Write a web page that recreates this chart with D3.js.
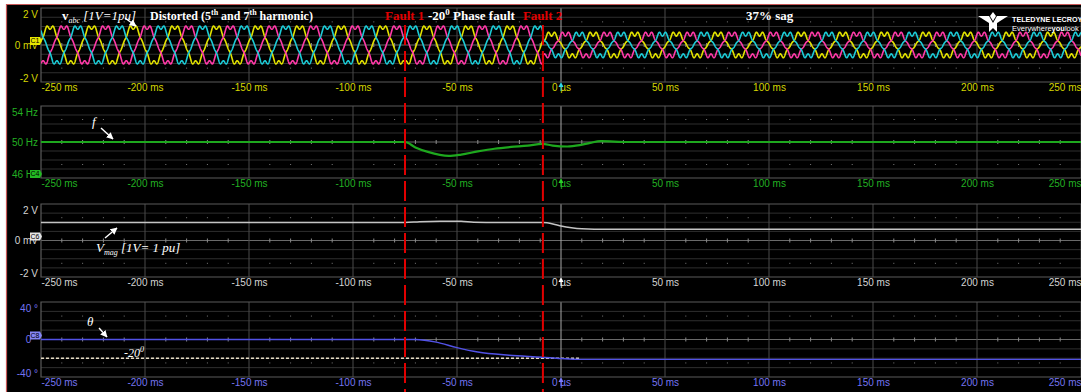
<!DOCTYPE html>
<html>
<head>
<meta charset="utf-8">
<script src="https://cdn.jsdelivr.net/npm/d3@7"></script>
<style>
  body { margin: 0; background: #fff; }
  svg { display: block; }
</style>
</head>
<body>
<div class="canvas"></div>
<script>
// ---- data ----
const timeTicks = [-250, -200, -150, -100, -50, 0, 50, 100, 150, 200, 250];
const timeTickLabels = ["-250 ms", "-200 ms", "-150 ms", "-100 ms", "-50 ms", "0 µs", "50 ms", "100 ms", "150 ms", "200 ms", "250 ms"];

const faultTimes = [-75, -8.7];
const faultLabels = ["Fault 1", "Fault 2"];

// three phase voltage, 1 V = 1 pu
const nominalHz = 50;
const phaseColors = ["#e2e200", "#ff3aa8", "#1ccbd6"];
const phaseAngles = [192, 72, -48];          // deg at t = 0
const segmentStart = [-250, -75, -8.7];      // ms
const segmentAmp = [1.0, 1.0, 0.63];         // pu fundamental
const segmentShift = [0, -20, -20];          // deg phase jump
const harmonicOrder = [5, 7];
const harmonicAmp = [-0.08, 0.07];           // pu

// frequency (Hz)
const freqTime = [-250, -75, -70, -64, -54, -48, -40, -32, -24, -16, -9, -4, 3, 9, 14, 19, 32, 250];
const freqHz =   [50, 50, 49.4, 48.9, 48.45, 48.6, 48.95, 49.25, 49.45, 49.6, 49.8, 49.6, 49.5, 49.65, 49.9, 50.1, 50, 50];

// voltage magnitude (V)
const vmagTime = [-250, -75, -68, -58, -48, -42, -30, -8.7, -3, 0, 5, 10, 16, 250];
const vmagV =    [0.98, 0.98, 1.03, 1.06, 1.05, 1.0, 0.98, 0.98, 0.88, 0.8, 0.7, 0.64, 0.62, 0.62];

// phase angle (deg)
const thetaTime = [-250, -70, -60, -50, -40, -25, -9, 0, 9, 250];
const thetaDeg =  [0, 0, -2.8, -8.7, -13.4, -16.8, -18.9, -20.3, -21.2, -21.2];
const thetaRef = -20;
const thetaRefEnd = 9;

// ---- layout ----
const W = 1081, H = 392;
const x = d3.scaleLinear().domain([-250, 250]).range([41, 1081]);

const panels = [
  { top: 8, bottom: 82, domain: [-2, 2], yTicks: [2, 0, -2], yLabels: ["2 V", "0 mV", "-2 V"],
    color: "#d6d600", badge: "C1", badgeFill: "#e8e800", badgeY: 0, marker: "#30d8e8" },
  { top: 106, bottom: 178, domain: [46, 54], yTicks: [54, 50, 46], yLabels: ["54 Hz", "50 Hz", "46 Hz"],
    color: "#23b023", badge: "C4", badgeFill: "#22b822", badgeY: 46, marker: "#2ad02a" },
  { top: 204, bottom: 277, domain: [-2, 2], yTicks: [2, 0, -2], yLabels: ["2 V", "0 mV", "-2 V"],
    color: "#d4d4d4", badge: "C6", badgeFill: "#e4e4e4", badgeY: 0, marker: "#ffffff" },
  { top: 302, bottom: 377, domain: [-40, 40], yTicks: [40, 0, -40], yLabels: ["40 °", "0 °", "-40 °"],
    color: "#7474f2", badge: "C8", badgeFill: "#8585f5", badgeY: 0, marker: "#7a7aff" }
];
panels.forEach(p => { p.y = d3.scaleLinear().domain(p.domain).range([p.bottom, p.top]); });

const svg = d3.select('.canvas').append('svg')
  .attr("width", W)
  .attr("height", H);

// page + screen
svg.append('rect').attr("width", W).attr("height", H).attr("fill", "#fff");
svg.append('rect').attr("x", 7).attr("y", 5).attr("width", W - 7).attr("height", H - 5).attr("fill", "#000");
svg.append('path').attr("d", `M6.5,${H} V4.5 H${W}`).attr("stroke", "#c85858").attr("stroke-width", 1.2).attr("fill", "none");

const defs = svg.append('defs');
defs.append('marker')
  .attr("id", "arrow").attr("viewBox", "0 0 10 10").attr("refX", 9).attr("refY", 5)
  .attr("markerWidth", 5).attr("markerHeight", 5).attr("orient", "auto")
  .append('path').attr("d", "M0,0 L10,5 L0,10 z").attr("fill", "#fff");

const minorTimes = d3.range(-240, 250, 10);

panels.forEach((p, i) => {
  defs.append('clipPath').attr("id", "clip" + i)
    .append('rect').attr("x", 41).attr("y", p.top).attr("width", W - 41).attr("height", p.bottom - p.top);

  const g = svg.append('g');
  const div = (p.bottom - p.top) / 8;

  // horizontal grid
  g.selectAll('.hg').data(d3.range(1, 8)).enter().append('line')
    .attr("x1", 41).attr("x2", W)
    .attr("y1", k => p.top + k * div).attr("y2", k => p.top + k * div)
    .attr("stroke", k => k === 4 ? "#6a6a6a" : "#2f2f2f").attr("stroke-width", 1);

  // vertical grid every 50 ms
  g.selectAll('.vg').data(timeTicks.slice(1)).enter().append('line')
    .attr("x1", d => x(d)).attr("x2", d => x(d))
    .attr("y1", p.top).attr("y2", p.bottom)
    .attr("stroke", d => d === 0 ? "#a8a8a8" : "#4a4a4a").attr("stroke-width", 1);

  // small ticks on the centre line and dots on the inner lines
  g.selectAll('.ct').data(minorTimes.filter(t => t % 50 !== 0)).enter().append('line')
    .attr("x1", d => x(d)).attr("x2", d => x(d))
    .attr("y1", p.top + 4 * div - 2).attr("y2", p.top + 4 * div + 2)
    .attr("stroke", "#8a8a8a");
  [p.top + 1.5 * div, p.bottom - 1.5 * div].forEach(yy => {
    g.selectAll(null).data(minorTimes.filter(t => t % 50 !== 0)).enter().append('rect')
      .attr("x", d => x(d) - 0.5).attr("y", yy - 0.5).attr("width", 1).attr("height", 1)
      .attr("fill", "#7a7a7a");
  });

  // border
  g.append('path')
    .attr("d", `M${W},${p.top} H41 V${p.bottom} H${W}`)
    .attr("stroke", "#5a5a5a").attr("stroke-width", 1.2).attr("fill", "none");

  // time axis
  const xAxis = d3.axisBottom(x).tickValues(timeTicks)
    .tickFormat((d, k) => timeTickLabels[k]).tickSize(0).tickPadding(0);
  const xg = g.append('g').attr("transform", `translate(0 ${p.bottom + 2})`).call(xAxis);
  xg.select('.domain').remove();
  xg.selectAll('text')
    .attr("fill", p.color).style("font-family", "'Liberation Sans', Arial, sans-serif").style("font-size", "10px")
    .attr("text-anchor", (d, k) => k === 0 ? "start" : (k === timeTicks.length - 1 ? "end" : "middle"));

  // amplitude axis
  const yAxis = d3.axisLeft(p.y).tickValues(p.yTicks)
    .tickFormat((d, k) => p.yLabels[k]).tickSize(0).tickPadding(3);
  const yg = g.append('g').attr("transform", "translate(41 0)").call(yAxis);
  yg.select('.domain').remove();
  yg.selectAll('text')
    .attr("fill", p.color).style("font-family", "'Liberation Sans', Arial, sans-serif").style("font-size", "10px")
    .attr("y", (d, k) => k === 0 ? 6 : (k === 2 ? -4 : 0));

  // channel badge
  const by = p.y(p.badgeY) - 4;
  const bg = g.append('g').attr("transform", `translate(30 ${by})`);
  bg.append('path').attr("d", "M0,-4 H10 L12,0 L10,4 H0 Z").attr("fill", p.badgeFill);
  bg.append('text').attr("x", 5).attr("y", 0).attr("dy", "0.35em").attr("text-anchor", "middle")
    .style("font-family", "'Liberation Sans', Arial, sans-serif").style("font-size", "7px")
    .attr("fill", "#000").text(p.badge);

  // trigger marker
  g.append('path')
    .attr("d", `M${x(0) - 2.5},${p.bottom + 5} L${x(0)},${p.bottom} L${x(0) + 2.5},${p.bottom + 5} Z`)
    .attr("fill", p.marker);
  g.append('line').attr("x1", x(0)).attr("x2", x(0)).attr("y1", p.bottom + 4).attr("y2", p.bottom + 9)
    .attr("stroke", p.marker);

  p.plot = svg.append('g').attr("clip-path", `url(#clip${i})`);
});

// ---- panel 1: three phase waveforms ----
function segIndex(t) {
  let s = 0;
  segmentStart.forEach((st, k) => { if (t >= st) s = k; });
  return s;
}
const tSamples = d3.range(-250, 250.001, 0.1);
const p1 = panels[0];
const wave = d3.line().x(d => x(d[0])).y(d => p1.y(d[1]));
phaseAngles.forEach((ph, k) => {
  const pts = tSamples.map(t => {
    const s = segIndex(t);
    const th = 2 * Math.PI * nominalHz * t / 1000 + (ph + segmentShift[s]) * Math.PI / 180;
    let v = segmentAmp[s] * Math.sin(th);
    harmonicOrder.forEach((n, h) => { v += harmonicAmp[h] * Math.sin(n * th); });
    return [t, v];
  });
  p1.plot.append('path').datum(pts).attr("d", wave)
    .attr("fill", "none").attr("stroke", phaseColors[k]).attr("stroke-width", 1.6);
});

// ---- panel 2: frequency ----
const p2 = panels[1];
p2.plot.append('path').datum(freqTime.map((t, k) => [t, freqHz[k]]))
  .attr("d", d3.line().x(d => x(d[0])).y(d => p2.y(d[1])).curve(d3.curveMonotoneX))
  .attr("fill", "none").attr("stroke", "#1ea81e").attr("stroke-width", 2.2);

// ---- panel 3: magnitude ----
const p3 = panels[2];
p3.plot.append('path').datum(vmagTime.map((t, k) => [t, vmagV[k]]))
  .attr("d", d3.line().x(d => x(d[0])).y(d => p3.y(d[1])).curve(d3.curveMonotoneX))
  .attr("fill", "none").attr("stroke", "#c4c4c4").attr("stroke-width", 1.5);

// ---- panel 4: phase angle ----
const p4 = panels[3];
p4.plot.append('line')
  .attr("x1", x(-250)).attr("x2", x(thetaRefEnd))
  .attr("y1", p4.y(thetaRef)).attr("y2", p4.y(thetaRef))
  .attr("stroke", "#e6dcc4").attr("stroke-width", 1.5).attr("stroke-dasharray", "3,2");
p4.plot.append('path').datum(thetaTime.map((t, k) => [t, thetaDeg[k]]))
  .attr("d", d3.line().x(d => x(d[0])).y(d => p4.y(d[1])).curve(d3.curveMonotoneX))
  .attr("fill", "none").attr("stroke", "#5252e6").attr("stroke-width", 1.4);

// ---- fault lines ----
svg.selectAll('.fault').data(faultTimes).enter().append('line')
  .attr("x1", d => x(d)).attr("x2", d => x(d))
  .attr("y1", 25).attr("y2", H)
  .attr("stroke", "#e00000").attr("stroke-width", 2).attr("stroke-dasharray", "20,6");

const serif = "'Liberation Serif', 'DejaVu Serif', serif";
svg.selectAll('.flab').data(faultTimes).enter().append('text')
  .attr("x", d => x(d) - 20).attr("y", 20)
  .attr("fill", "#e00000").style("font-family", serif).style("font-weight", "bold").style("font-size", "13px")
  .text((d, k) => faultLabels[k]);

// ---- annotations ----
function note(xp, yp, parts, size) {
  const t = svg.append('text').attr("x", xp).attr("y", yp).attr("fill", "#fff")
    .style("font-family", serif).style("font-size", size + "px");
  parts.forEach(pt => {
    const s = t.append('tspan').text(pt.t);
    if (pt.b) s.style("font-weight", "bold");
    if (pt.i) s.style("font-style", "italic");
    if (pt.sup) s.attr("dy", -5).style("font-size", (size - 4) + "px");
    if (pt.sub) s.attr("dy", 3).style("font-size", (size - 5) + "px");
    if (pt.back) s.attr("dy", pt.back);
  });
  return t;
}
function arrow(x1, y1, x2, y2) {
  svg.append('line').attr("x1", x1).attr("y1", y1).attr("x2", x2).attr("y2", y2)
    .attr("stroke", "#fff").attr("stroke-width", 1.4).attr("marker-end", "url(#arrow)");
}

note(62, 20, [{ t: "v", b: 1 }, { t: "abc", i: 1, sub: 1 }, { t: " [1V=1pu]", i: 1, back: -3 }], 13);
arrow(125, 18, 136, 26);
note(150, 20, [{ t: "Distorted (5", b: 1 }, { t: "th", b: 1, sup: 1 }, { t: " and 7", b: 1, back: 5 },
  { t: "th", b: 1, sup: 1 }, { t: " harmonic)", b: 1, back: 5 }], 12);
note(428, 20, [{ t: "-20", b: 1 }, { t: "0", b: 1, sup: 1 }, { t: " Phase fault", b: 1, back: 5 }], 13);
note(746, 20, [{ t: "37% sag", b: 1 }], 13);

note(92, 126, [{ t: "f", i: 1 }], 13);
arrow(101, 128, 113, 139);

note(96, 252, [{ t: "V", i: 1 }, { t: "mag", i: 1, sub: 1 }, { t: " [1V= 1 pu]", i: 1, back: -3 }], 13);
arrow(105, 238, 117, 228);

note(87, 326, [{ t: "θ", i: 1 }], 13);
arrow(99, 328, 107, 337);
note(124, 357, [{ t: "-20", i: 1 }, { t: "0", i: 1, sup: 1 }], 12);

// ---- logo ----
const logo = svg.append('g').attr("transform", "translate(993 20)");
logo.append('path')
  .attr("d", "M-15,-4 L-4,-4 L0,3 L4,-4 L15,-4 L4,3 L4,12 L0,8 L-4,12 L-4,3 Z")
  .attr("fill", "#fff");
logo.append('path')
  .attr("d", "M-3,-4 L0,-8 L3,-4 L0,1 Z")
  .attr("fill", "#fff");
svg.append('text').attr("x", 1012).attr("y", 22).attr("fill", "#fff")
  .style("font-family", "'Liberation Sans', Arial, sans-serif").style("font-size", "7.2px").style("font-weight", "bold")
  .text("TELEDYNE LECROY");
const ev = svg.append('text').attr("x", 1012).attr("y", 31).attr("fill", "#fff")
  .style("font-family", "'Liberation Sans', Arial, sans-serif").style("font-size", "7.5px");
ev.append('tspan').text("Everywhere");
ev.append('tspan').style("font-weight", "bold").text("you");
ev.append('tspan').text("look");
</script>
</body>
</html>
